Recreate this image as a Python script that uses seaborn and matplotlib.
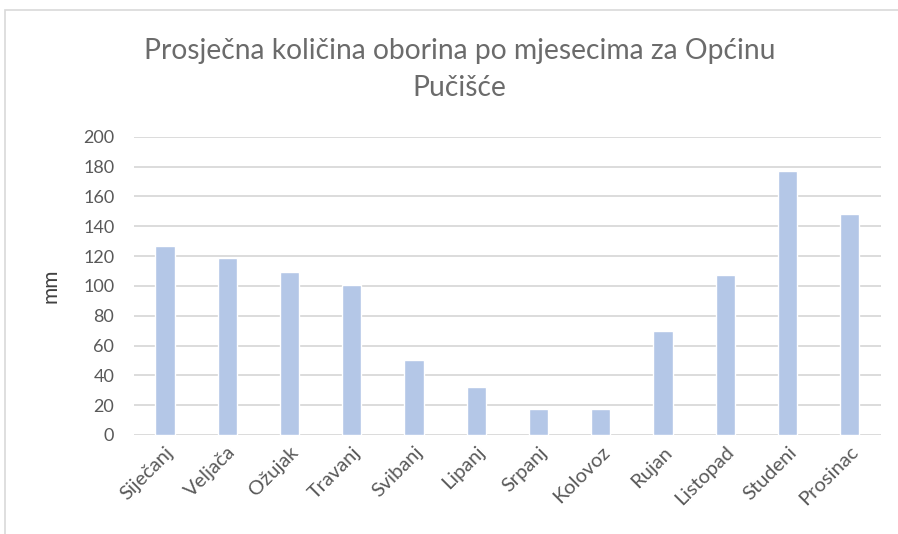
import seaborn as sns
import matplotlib.pyplot as plt
import matplotlib.patches as patches
import pandas as pd

# -------------------------------
# Data
# -------------------------------
months = ["Siječanj", "Veljača", "Ožujak", "Travanj", "Svibanj", "Lipanj",
          "Srpanj", "Kolovoz", "Rujan", "Listopad", "Studeni", "Prosinac"]
rain_mm = [127, 119, 109, 100.5, 50, 32.5, 17.7, 17.7, 69.5, 107, 177, 148]

data = pd.DataFrame({"Mjesec": months, "Oborina": rain_mm})

# -------------------------------
# Style
# -------------------------------
sns.set_style("white")
plt.rcParams["font.family"] = ["Lato", "DejaVu Sans"]
text_col = "#595959"
grid_col = "#D9D9D9"

fig = plt.figure(figsize=(8.98, 5.34), dpi=100)
ax = fig.add_axes([0.149, 0.1854, 0.832, 0.5586])

sns.barplot(data=data, x="Mjesec", y="Oborina", color="#B4C7E7",
            width=0.31, saturation=1, ax=ax, zorder=3)

ax.set_ylim(0, 200)
ax.set_yticks(range(0, 201, 20))
ax.set_xlim(-0.5, len(months) - 0.5)
ax.yaxis.grid(True, color=grid_col, linewidth=1.3, zorder=0)
ax.set_axisbelow(True)
for s in ax.spines.values():
    s.set_visible(False)

ax.tick_params(axis="y", length=0, colors=text_col, labelsize=13, pad=14)
ax.tick_params(axis="x", length=0, colors=text_col, labelsize=14.5, pad=6)
plt.setp(ax.get_xticklabels(), rotation=45, ha="right", rotation_mode="anchor")

ax.set_xlabel("")
ax.set_ylabel("mm", fontsize=15, color="#404040", labelpad=16)

fig.suptitle("Prosječna količina oborina po mjesecima za Općinu\nPučišće",
             x=0.512, y=0.928, fontsize=20.3,
             color="#6b6b6b", linespacing=1.5)

# chart border like the spreadsheet frame
fig.add_artist(patches.Rectangle((5 / 898, -0.2), 2.0, 1.2 - 10 / 534,
                                 transform=fig.transFigure, fill=False,
                                 edgecolor=grid_col, linewidth=1.2))

fig.savefig("out.png", dpi=100)
plt.close(fig)
